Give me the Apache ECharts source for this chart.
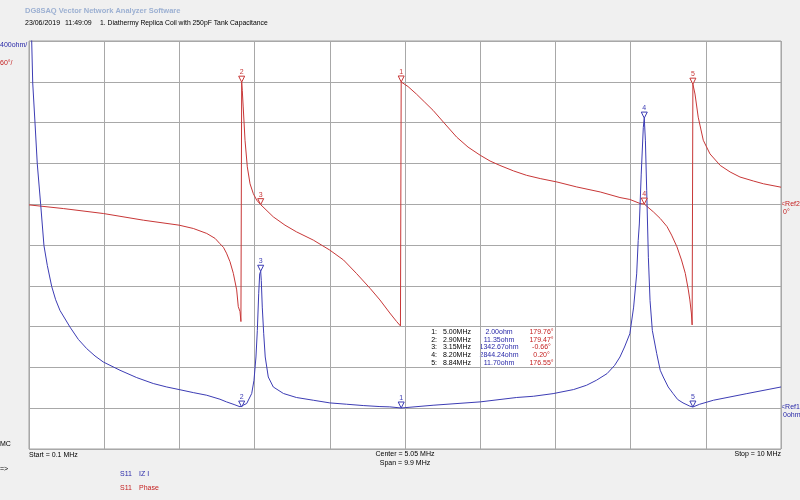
<!DOCTYPE html>
<html>
<head>
<meta charset="utf-8">
<script src="https://cdn.jsdelivr.net/npm/echarts@6/dist/echarts.min.js"></script>
<style>
html,body{margin:0;padding:0;background:#f0f0f0;}
#c{width:800px;height:500px;}
</style>
</head>
<body>
<div id="c"></div>
<script>
// |Z| trace (MHz, ohm)
const freqZ = [0.1, 0.1355, 0.149, 0.179, 0.209, 0.254, 0.297, 0.341, 0.399, 0.451, 0.508, 0.64, 0.749, 0.86, 0.969, 1.078, 1.298, 1.518, 1.736, 1.913,
  2.075, 2.263, 2.44, 2.614, 2.70, 2.80, 2.878, 2.90,
  2.966, 3.032, 3.062, 3.088, 3.106, 3.124, 3.137, 3.15, 3.158, 3.171, 3.19, 3.21, 3.25, 3.316, 3.45, 3.62, 3.843, 4.06, 4.28, 4.50, 4.72, 4.85, 5.00,
  5.42, 6.04, 6.52, 6.74, 7.0, 7.27, 7.44, 7.57, 7.71, 7.81, 7.88, 7.94, 8.01, 8.06, 8.10, 8.12, 8.135, 8.16, 8.187, 8.20,
  8.215, 8.232, 8.254, 8.276, 8.306, 8.364, 8.41, 8.45, 8.515, 8.58, 8.64, 8.71, 8.80, 8.84, 8.93, 9.11, 9.55, 10.0];
const valZ = [5000, 3600, 3188, 2797, 2396, 1995, 1594, 1400, 1193, 1063, 958, 795, 675, 584, 512, 453, 372, 300, 242, 208,
  183, 153, 127, 88, 62, 36, 14, 11.35,
  46, 144, 274, 502, 763, 1122, 1317, 1342.67, 1252, 991, 730, 502, 306, 208, 144, 105, 78, 52, 39, 26, 16, 13, 2.0,
  29, 62, 105, 117, 143, 183, 225, 274, 339, 420, 502, 600, 730, 991, 1317, 1643, 1806, 2295, 2751, 2844.24,
  2621, 2132, 1480, 1056, 763, 535, 372, 306, 208, 143, 85, 52, 20, 11.7, 39, 78, 143, 208];

// Phase trace (MHz, degrees)
const freqP = [0.1, 0.552, 1.08, 1.605, 2.075, 2.263, 2.44, 2.55, 2.61, 2.66, 2.70, 2.746, 2.79, 2.834, 2.855, 2.878, 2.89, 2.90,
  2.908, 2.92, 2.944, 2.974, 3.01, 3.053, 3.098, 3.15, 3.316, 3.47, 3.62, 3.843, 4.06, 4.24, 4.41, 4.59, 4.72, 4.85, 4.94, 4.99, 5.00,
  5.09, 5.20, 5.31, 5.42, 5.577, 5.73, 5.88, 6.04, 6.17, 6.30, 6.48, 6.65, 6.83, 7.05, 7.31, 7.62, 7.88, 8.01, 8.145, 8.20,
  8.32, 8.41, 8.50, 8.56, 8.63, 8.69, 8.74, 8.78, 8.80, 8.82, 8.83, 8.84,
  8.868, 8.91, 8.977, 9.065, 9.20, 9.33, 9.46, 9.64, 9.77, 10.0];
const valP = [-1, -6.4, -13.7, -23.5, -30.8, -35.7, -43, -50.3, -57.7, -63.5, -72, -84.6, -101.7, -126, -150.6, -158, -172.6, 179.47,
  167, 143, 94, 55, 30, 15.6, 5.9, -0.66, -18.6, -30.8, -40.6, -52.8, -67.5, -82, -101.7, -123.7, -140.8, -160, -172.6, -179, 179.76,
  173, 162, 150, 138, 118, 98.7, 84, 72, 63.5, 57, 48.9, 42.5, 37.7, 32.7, 25.4, 18, 9.8, 7, 1, 0.2,
  -11.3, -21, -33, -45.5, -62.6, -82, -101.7, -126, -140.8, -160, -177.5, 176.55,
  162, 128, 94, 74, 57, 47.4, 40, 34, 30, 25];

// Markers
const markerNo = [1, 2, 3, 4, 5];
const markerFreq = [5.00, 2.90, 3.15, 8.20, 8.84];
const markerZ = [2.00, 11.35, 1342.67, 2844.24, 11.70];
const markerPhase = [179.76, 179.47, -0.66, 0.20, 176.55];

const BLUE = '#3c3cb4', RED = '#c83737', TBLUE = '#2828a8', TRED = '#c41e1e';
const FONT = '7px "Liberation Sans", Arial, sans-serif';

const chart = echarts.init(document.getElementById('c'), null, {renderer: 'canvas'});

function mp(vals, color) {
  return {
    symbol: 'triangle', symbolRotate: 180, symbolSize: [6, 6], symbolOffset: [0, -3],
    itemStyle: {color: '#fff', borderColor: color, borderWidth: 1},
    label: {show: true, position: 'top', distance: 0, color: color, fontSize: 7, fontFamily: 'Liberation Sans',
      formatter: p => p.name},
    data: markerNo.map((n, i) => ({name: String(n), coord: [markerFreq[i], vals[i]]}))
  };
}

const g = [];
function txt(x, y, t, color, align, font) {
  g.push({type: 'text', silent: true, style: {x: x, y: y, text: t, fill: color, align: align || 'left', verticalAlign: 'middle', font: font || FONT}});
}
txt(25, 11, 'DG8SAQ Vector Network Analyzer Software', '#9cb0d2', 'left', 'bold 7.5px "Liberation Sans", Arial, sans-serif');
txt(25, 23, '23/06/2019', '#000');
txt(65, 23, '11:49:09', '#000');
txt(100, 23, '1. Diathermy Replica Coil with 250pF Tank Capacitance', '#000', 'left', '6.8px "Liberation Sans", Arial, sans-serif');
txt(0, 45, '400ohm/', TBLUE);
txt(0, 63, '60°/', TRED);
txt(0, 444, 'MC', '#000');
txt(0, 469, '=>', '#000');
txt(29, 455, 'Start = 0.1 MHz', '#000');
txt(405, 454, 'Center = 5.05 MHz', '#000', 'center');
txt(405, 463, 'Span = 9.9 MHz', '#000', 'center');
txt(781, 454, 'Stop = 10 MHz', '#000', 'right');
txt(781, 204, '<Ref2', TRED);
txt(783, 212, '0°', TRED);
txt(781, 407, '<Ref1', TBLUE);
txt(783, 415, '0ohm', TBLUE);
txt(120, 474, 'S11', TBLUE);
txt(139, 474, 'IZ I', TBLUE);
txt(120, 488, 'S11', TRED);
txt(139, 488, 'Phase', TRED);
markerNo.forEach((n, i) => {
  const y = 331.7 + i * 7.9;
  txt(437, y, n + ':', '#000', 'right');
  txt(457, y, markerFreq[i].toFixed(2) + 'MHz', '#000', 'center');
  txt(499, y, markerZ[i].toFixed(2) + 'ohm', TBLUE, 'center');
  txt(541.5, y, markerPhase[i].toFixed(2) + '°', TRED, 'center');
});

const hidden = {axisLabel: {show: false}, axisTick: {show: false}, axisLine: {show: false}};
chart.setOption({
  backgroundColor: '#f0f0f0',
  animation: false,
  grid: {left: 29, right: 19, top: 41, bottom: 51, show: true, backgroundColor: '#fff', borderColor: '#a0a0a0', borderWidth: 1},
  xAxis: [
    Object.assign({type: 'value', min: 0.1, max: 10, splitLine: {show: false}}, hidden),
    Object.assign({type: 'value', min: 0, max: 10, interval: 1, splitLine: {show: true, lineStyle: {color: '#a8a8a8', width: 1}}}, hidden)
  ],
  yAxis: [
    Object.assign({type: 'value', min: -400, max: 3600, interval: 400, splitLine: {show: true, lineStyle: {color: '#a8a8a8', width: 1}}}, hidden),
    Object.assign({type: 'value', min: -360, max: 240, interval: 60, splitLine: {show: false}}, hidden)
  ],
  series: [
    {type: 'line', name: 'S11 |Z|', xAxisIndex: 0, yAxisIndex: 0, showSymbol: false, symbol: 'none',
      lineStyle: {color: BLUE, width: 1}, data: freqZ.map((f, i) => [f, valZ[i]]), markPoint: mp(markerZ, BLUE), z: 3},
    {type: 'line', name: 'S11 Phase', xAxisIndex: 0, yAxisIndex: 1, showSymbol: false, symbol: 'none',
      lineStyle: {color: RED, width: 1}, data: freqP.map((f, i) => [f, valP[i]]), markPoint: mp(markerPhase, RED), z: 2}
  ],
  graphic: g
});
</script>
</body>
</html>
